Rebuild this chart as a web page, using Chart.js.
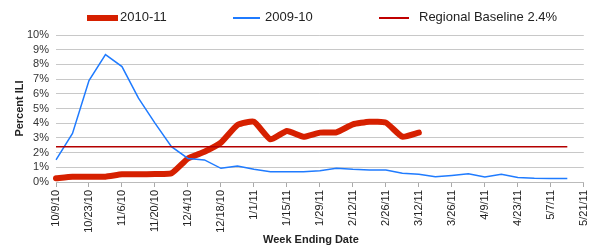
<!DOCTYPE html>
<html>
<head>
<meta charset="utf-8">
<script src="https://cdn.jsdelivr.net/npm/chart.js"></script>
<style>
  body { margin: 0; background: #fff; font-family: 'Liberation Sans', Arial, sans-serif; }
  .wrap { position: relative; width: 600px; height: 250px; }
  .legend { position: absolute; top: 9px; left: 0; height: 16px; font-size: 13px; color: #222; }
  .legend span { position: absolute; white-space: nowrap; }
  .legend i { position: absolute; display: block; }
  .xtitle { position: absolute; top: 233px; left: 263px; font-size: 11px; font-weight: bold; color: #222; white-space: nowrap; }
</style>
</head>
<body>
<div class="wrap">
  <canvas id="c" width="600" height="250"></canvas>
  <div class="legend">
    <i style="left:87px; top:6px; width:31px; height:6px; background:#d62000;"></i>
    <span style="left:120px; top:0;">2010-11</span>
    <i style="left:233px; top:8px; width:27px; height:2px; background:#1f7bff;"></i>
    <span style="left:265px; top:0;">2009-10</span>
    <i style="left:379px; top:8px; width:30px; height:2px; background:#c00000;"></i>
    <span style="left:419px; top:0;">Regional Baseline 2.4%</span>
  </div>
  <div class="xtitle">Week Ending Date</div>
</div>
<script>
const weeks = ['10/9/10', '10/16/10', '10/23/10', '10/30/10', '11/6/10', '11/13/10', '11/20/10', '11/27/10',
  '12/4/10', '12/11/10', '12/18/10', '12/25/10', '1/1/11', '1/8/11', '1/15/11', '1/22/11', '1/29/11',
  '2/5/11', '2/12/11', '2/19/11', '2/26/11', '3/5/11', '3/12/11', '3/19/11', '3/26/11', '4/2/11',
  '4/9/11', '4/16/11', '4/23/11', '4/30/11', '5/7/11', '5/14/11', '5/21/11'];

// percent ILI
const season1011 = [0.25, 0.35, 0.36, 0.36, 0.52, 0.52, 0.54, 0.59, 1.6, 2.06, 2.68, 3.88, 4.1,
  2.9, 3.47, 3.08, 3.36, 3.38, 3.92, 4.1, 4.04, 3.08, 3.36];
const season0910 = [1.5, 3.3, 6.9, 8.66, 7.85, 5.7, 4.0, 2.4, 1.6, 1.5, 0.93, 1.09, 0.86, 0.7, 0.7,
  0.7, 0.77, 0.93, 0.86, 0.82, 0.82, 0.59, 0.52, 0.36, 0.45, 0.56, 0.34, 0.52, 0.3, 0.25, 0.23, 0.23];
const baseline = [2.4, 2.4, 2.4, 2.4, 2.4, 2.4, 2.4, 2.4, 2.4, 2.4, 2.4, 2.4, 2.4, 2.4, 2.4, 2.4,
  2.4, 2.4, 2.4, 2.4, 2.4, 2.4, 2.4, 2.4, 2.4, 2.4, 2.4, 2.4, 2.4, 2.4, 2.4, 2.4];

const yTicks = [0, 1, 2, 3, 4, 5, 6, 7, 8, 9, 10];

new Chart(document.getElementById('c'), {
  type: 'line',
  data: {
    labels: weeks,
    datasets: [
      { label: 'Regional Baseline 2.4%', data: baseline, borderColor: '#b40000', borderWidth: 1.5, pointRadius: 0, tension: 0 },
      { label: '2009-10', data: season0910, borderColor: '#1f7bff', borderWidth: 1.5, pointRadius: 0, tension: 0 },
      { label: '2010-11', data: season1011, borderColor: '#d62000', borderWidth: 6, pointRadius: 0,
        tension: 0.15, borderJoinStyle: 'round', borderCapStyle: 'round' }
    ]
  },
  options: {
    responsive: false,
    animation: false,
    layout: { padding: { top: 35, right: 13, left: 0, bottom: 0 } },
    plugins: { legend: { display: false }, tooltip: { enabled: false } },
    scales: {
      x: {
        offset: false,
        afterFit: s => { s.height = 68; },
        grid: {
          drawOnChartArea: false,
          tickLength: 5,
          color: ctx => (ctx.index % 2 === 0 ? '#aaa' : 'rgba(0,0,0,0)')
        },
        border: { color: '#bbb' },
        ticks: {
          autoSkip: false,
          minRotation: 90,
          maxRotation: 90,
          padding: 3,
          color: '#222',
          font: { family: 'Liberation Sans', size: 11 },
          callback: (v, i) => (i % 2 === 0 ? weeks[i] : '')
        }
      },
      y: {
        min: 0,
        max: 10,
        afterFit: s => { s.width = 56; },
        afterBuildTicks: s => { s.ticks = yTicks.map(v => ({ value: v })); },
        grid: { color: '#c8c8c8', drawTicks: false },
        border: { display: false },
        ticks: {
          autoSkip: false,
          padding: 7,
          color: '#333',
          font: { family: 'Liberation Sans', size: 11 },
          callback: v => v + '%'
        },
        title: {
          display: true,
          text: 'Percent ILI',
          color: '#222',
          padding: { top: 13, bottom: 0 },
          font: { family: 'Liberation Sans', size: 11, weight: 'bold' }
        }
      }
    }
  }
});
</script>
</body>
</html>
